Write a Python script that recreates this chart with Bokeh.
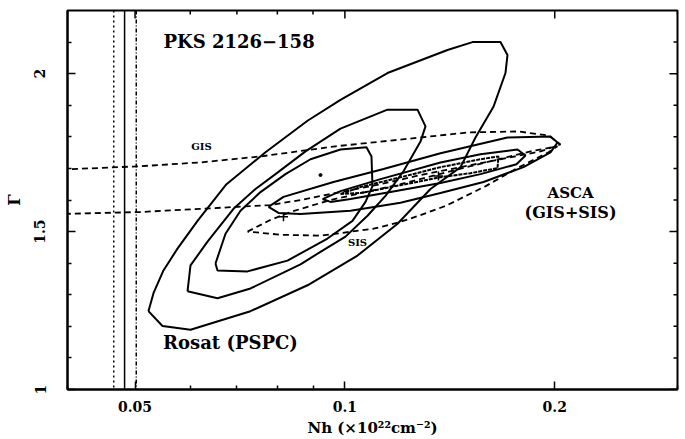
import math
from bokeh.plotting import figure
from bokeh.models import FixedTicker, Label, Span, Range1d
from bokeh.embed import file_html
from bokeh.resources import INLINE

# ---------------- data (Nh in 1e22 cm^-2, photon index Gamma) ----------------
# Galactic column (value and its range)
galactic_nh = [0.0483]
galactic_nh_low = [0.0466]
galactic_nh_high = [0.0502]

# ROSAT PSPC confidence contours
rosat_outer_nh = [0.05226, 0.05474, 0.06005, 0.0732, 0.08838, 0.10425, 0.1190, 0.13268, 0.14651, 0.15394,
                  0.16334, 0.16996, 0.17108, 0.16718, 0.15242, 0.14034, 0.1151, 0.09855, 0.08838, 0.07693,
                  0.06763, 0.06146, 0.05752, 0.05492, 0.05314, 0.05226]
rosat_outer_g = [1.248, 1.201, 1.189, 1.248, 1.330, 1.424, 1.525, 1.635, 1.704, 1.798,
                 1.895, 2.002, 2.059, 2.100, 2.100, 2.075, 2.002, 1.917, 1.851, 1.751,
                 1.650, 1.534, 1.446, 1.377, 1.305, 1.248]

rosat_mid_nh = [0.05946, 0.06005, 0.06352, 0.06921, 0.07443, 0.07951, 0.0878, 0.09855, 0.1151, 0.1271,
                0.1305, 0.12836, 0.12135, 0.11435, 0.10775, 0.1002, 0.09287, 0.08636, 0.07321, 0.06565,
                0.05946]
rosat_mid_g = [1.311, 1.393, 1.468, 1.572, 1.635, 1.682, 1.754, 1.826, 1.886, 1.886,
               1.833, 1.785, 1.691, 1.613, 1.550, 1.484, 1.440, 1.396, 1.320, 1.289,
               1.311]

rosat_in_nh = [0.06522, 0.06565, 0.07249, 0.08273, 0.09441, 0.10254, 0.10704, 0.10954, 0.10918, 0.10739,
               0.09855, 0.08926, 0.08218, 0.07567, 0.07083, 0.06741, 0.06522]
rosat_in_g = [1.399, 1.377, 1.374, 1.408, 1.478, 1.534, 1.594, 1.644, 1.738, 1.767,
              1.760, 1.729, 1.682, 1.625, 1.566, 1.493, 1.399]

# ASCA GIS+SIS confidence contours
asca_outer_nh = [0.0777, 0.08164, 0.0963, 0.1136, 0.13713, 0.17108, 0.19721, 0.20182, 0.19721, 0.18038,
                 0.15806, 0.13713, 0.12016, 0.10186, 0.08636, 0.08031, 0.0777]
asca_outer_g = [1.578, 1.610, 1.657, 1.698, 1.748, 1.798, 1.801, 1.782, 1.751, 1.704,
                1.657, 1.622, 1.591, 1.566, 1.556, 1.559, 1.578]

asca_mid_nh = [0.09287, 0.09855, 0.11248, 0.13713, 0.1565, 0.17684, 0.18158, 0.17626, 0.1565, 0.13713,
               0.11625, 0.10186, 0.09535, 0.09287]
asca_mid_g = [1.603, 1.628, 1.666, 1.719, 1.745, 1.760, 1.741, 1.713, 1.682, 1.654,
              1.625, 1.603, 1.594, 1.603]

asca_in_nh = [0.09855, 0.10528, 0.12016, 0.13713, 0.1565, 0.16608, 0.16554, 0.15142, 0.13713, 0.12016,
              0.10528, 0.09855]
asca_in_g = [1.619, 1.641, 1.672, 1.704, 1.729, 1.738, 1.701, 1.685, 1.672, 1.647,
             1.622, 1.619]

# GIS-only contour (open towards low Nh)
gis_nh = [0.038, 0.05091, 0.06206, 0.07567, 0.09694, 0.12096, 0.15042, 0.17742, 0.19591, 0.20383,
          0.1908, 0.16718, 0.14651, 0.12836, 0.11248, 0.09855, 0.08636, 0.07821, 0.06206, 0.05091, 0.038]
gis_g = [1.695, 1.707, 1.719, 1.738, 1.770, 1.792, 1.814, 1.817, 1.804, 1.776,
         1.754, 1.729, 1.704, 1.679, 1.650, 1.625, 1.600, 1.584, 1.572, 1.562, 1.555]

# SIS-only contour
sis_nh = [0.07249, 0.07821, 0.08355, 0.09535, 0.12016, 0.15142, 0.1846, 0.20182, 0.19591, 0.17568,
          0.15924, 0.13941, 0.12752, 0.12016, 0.1099, 0.09226, 0.08084, 0.07249]
sis_g = [1.500, 1.537, 1.562, 1.600, 1.650, 1.707, 1.754, 1.770, 1.751, 1.698,
         1.644, 1.581, 1.550, 1.531, 1.509, 1.487, 1.490, 1.500]

# best fits
best_plus_nh = [0.08164, 0.13622]
best_plus_g = [1.547, 1.676]
best_dot_nh = [0.09226]
best_dot_g = [1.679]

x_ticks = [0.05, 0.1, 0.2]
x_tick_labels = ["0.05", "0.1", "0.2"]
x_minor = [0.04, 0.06, 0.07, 0.08, 0.09, 0.3]
y_ticks = [1, 1.5, 2]
y_minor = [1.1, 1.2, 1.3, 1.4, 1.6, 1.7, 1.8, 1.9, 2.1]

X_MIN, X_MAX = 0.04, 0.3
Y_MIN, Y_MAX = 1.0, 2.2

FONT = "DejaVu Serif"

p = figure(width=685, height=439, x_axis_type="log",
           x_range=Range1d(X_MIN, X_MAX), y_range=Range1d(Y_MIN, Y_MAX),
           output_backend="svg", toolbar_location=None,
           min_border_left=67, min_border_right=8, min_border_top=10, min_border_bottom=47)
p.background_fill_color = "white"
p.border_fill_color = "white"
p.grid.visible = False
p.outline_line_color = "black"
p.outline_line_width = 2


def style_axis(ax):
    ax.axis_line_color = "black"
    ax.axis_line_width = 2
    ax.major_tick_in = 8
    ax.major_tick_out = 0
    ax.minor_tick_in = 4
    ax.minor_tick_out = 0
    ax.major_tick_line_width = 1.5
    ax.minor_tick_line_width = 1.5
    ax.major_label_text_font = FONT
    ax.major_label_text_font_style = "bold"
    ax.major_label_text_color = "black"
    ax.axis_label_text_font = FONT
    ax.axis_label_text_font_style = "bold"
    ax.axis_label_text_color = "black"


xa = p.xaxis[0]
xa.ticker = FixedTicker(ticks=x_ticks, minor_ticks=x_minor)
style_axis(xa)
xa.major_label_overrides = {t: s for t, s in zip(x_ticks, x_tick_labels)}
xa.major_label_text_font_size = "14px"
xa.major_label_standoff = 11
xa.axis_label = "Nh (×10²²cm⁻²)"
xa.axis_label_text_font_size = "15px"
xa.axis_label_standoff = 4

ya = p.yaxis[0]
ya.ticker = FixedTicker(ticks=y_ticks, minor_ticks=y_minor)
style_axis(ya)
ya.major_label_orientation = "vertical"
ya.major_label_text_font_size = "14px"
ya.major_label_standoff = 22
ya.axis_label = "Γ"
ya.axis_label_text_font_size = "16px"
ya.axis_label_standoff = 8

# tick marks on the top and right frame edges (no labels there)
p.ray(x=x_ticks, y=[Y_MAX] * len(x_ticks), length=8, length_units="screen",
      angle=-math.pi / 2, line_color="black", line_width=1.5)
p.ray(x=x_minor, y=[Y_MAX] * len(x_minor), length=4, length_units="screen",
      angle=-math.pi / 2, line_color="black", line_width=1.5)
p.ray(x=[X_MAX] * len(y_ticks), y=y_ticks, length=8, length_units="screen",
      angle=math.pi, line_color="black", line_width=1.5)
p.ray(x=[X_MAX] * len(y_minor), y=y_minor, length=4, length_units="screen",
      angle=math.pi, line_color="black", line_width=1.5)

# galactic Nh lines
p.add_layout(Span(location=galactic_nh[0], dimension="height", line_color="black", line_width=1.5))
p.add_layout(Span(location=galactic_nh_low[0], dimension="height", line_color="black",
                  line_width=1.5, line_dash="2 3"))
p.add_layout(Span(location=galactic_nh_high[0], dimension="height", line_color="black",
                  line_width=1.5, line_dash="4 2 1 2"))

# ROSAT contours
for xs, ys in [(rosat_outer_nh, rosat_outer_g), (rosat_mid_nh, rosat_mid_g), (rosat_in_nh, rosat_in_g)]:
    p.line(xs, ys, line_color="black", line_width=2)

# ASCA contours
p.line(asca_outer_nh, asca_outer_g, line_color="black", line_width=2)
p.line(asca_mid_nh, asca_mid_g, line_color="black", line_width=2)
p.line(asca_in_nh, asca_in_g, line_color="black", line_width=2, line_dash="4 1")

# GIS and SIS contours (dashed)
p.line(gis_nh, gis_g, line_color="black", line_width=1.8, line_dash="6 4")
p.line(sis_nh, sis_g, line_color="black", line_width=1.8, line_dash="6 4")

# best fit markers
p.scatter(best_plus_nh, best_plus_g, marker="cross", size=9, line_color="black", line_width=1.5)
p.scatter(best_dot_nh, best_dot_g, marker="circle", size=3, fill_color="black", line_color="black")


def add_label(x, y, text, size, align="center"):
    p.add_layout(Label(x=x, y=y, text=text, text_font=FONT, text_font_style="bold",
                       text_font_size=size, text_align=align, text_baseline="middle",
                       text_color="black"))


add_label(0.05492, 2.101, "PKS 2126−158", "18px", align="left")
add_label(0.06227, 1.770, "GIS", "10px")
add_label(0.10425, 1.465, "SIS", "10px")
add_label(0.2107, 1.622, "ASCA", "15px")
add_label(0.2107, 1.559, "(GIS+SIS)", "16px")
add_label(0.06853, 1.148, "Rosat (PSPC)", "18px")

open("out.html", "w").write(file_html(p, INLINE))
